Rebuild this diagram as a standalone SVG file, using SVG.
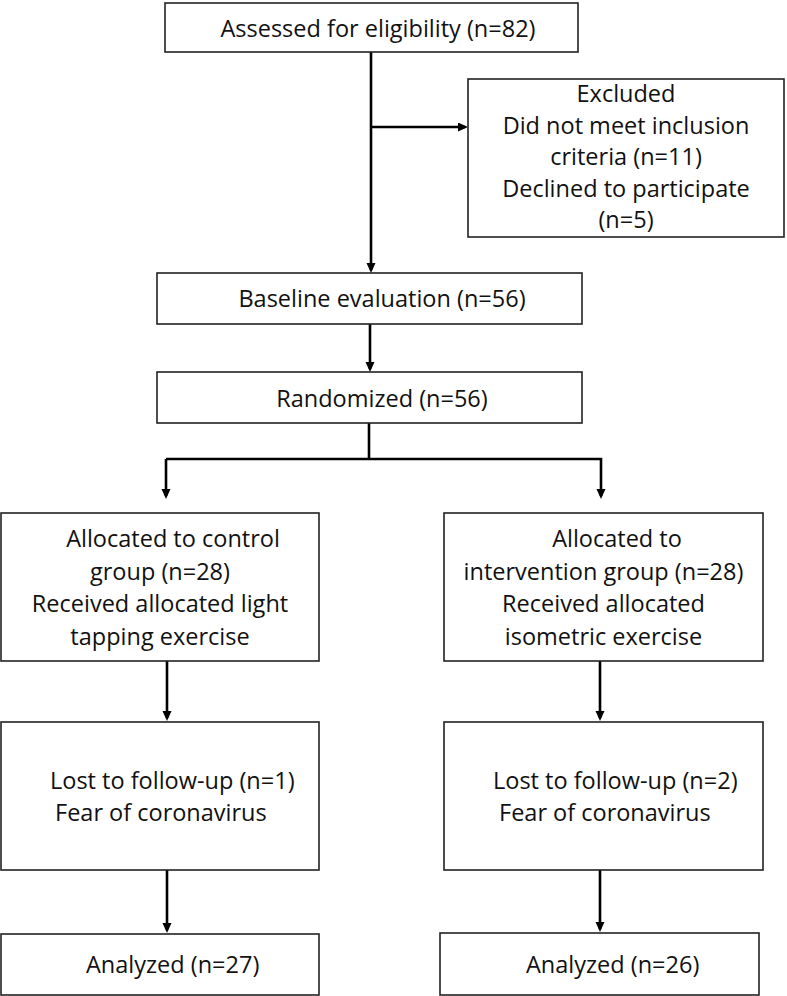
<svg xmlns="http://www.w3.org/2000/svg" width="787" height="996" viewBox="0 0 787 996">
<defs>
<style>
.box{fill:#fff;stroke:#222;stroke-width:1.6}
.t{font-family:"Open Sans","Noto Sans","Liberation Sans",sans-serif;font-size:23.5px;fill:#111}
.c{text-anchor:middle}
.ln{fill:none;stroke:#000;stroke-width:2.6}
</style>
<marker id="ah" markerUnits="userSpaceOnUse" markerWidth="12" markerHeight="10" refX="7" refY="4.5" orient="auto">
<path d="M0,0 L10,4.5 L0,9 z" fill="#000"/>
</marker>
</defs>
<rect width="787" height="996" fill="#fff"/>
<g id="connectors">
<line class="ln" x1="371" y1="52" x2="371" y2="270" marker-end="url(#ah)"/>
<line class="ln" x1="371" y1="127" x2="465" y2="127" marker-end="url(#ah)"/>
<line class="ln" x1="370" y1="324" x2="370" y2="369" marker-end="url(#ah)"/>
<polyline class="ln" points="369,423 369,459"/>
<polyline class="ln" points="166,459 601,459 601,496" marker-end="url(#ah)"/>
<line class="ln" x1="166" y1="459" x2="166" y2="496" marker-end="url(#ah)"/>
<line class="ln" x1="167" y1="661" x2="167" y2="718" marker-end="url(#ah)"/>
<line class="ln" x1="600" y1="661" x2="600" y2="718" marker-end="url(#ah)"/>
<line class="ln" x1="167" y1="870" x2="167" y2="930" marker-end="url(#ah)"/>
<line class="ln" x1="600" y1="870" x2="600" y2="929" marker-end="url(#ah)"/>
</g>
<g id="assessed">
<rect class="box" x="165" y="3" width="413" height="49"/>
<text class="t c" x="378" y="37">Assessed for eligibility (n=82)</text>
</g>
<g id="excluded">
<rect class="box" x="468" y="79" width="316" height="158"/>
<text class="t c" x="626" y="102">Excluded</text>
<text class="t c" x="626" y="134">Did not meet inclusion</text>
<text class="t c" x="626" y="165">criteria (n=11)</text>
<text class="t c" x="626" y="197">Declined to participate</text>
<text class="t c" x="626" y="228">(n=5)</text>
</g>
<g id="baseline">
<rect class="box" x="157" y="273" width="425" height="51"/>
<text class="t c" x="382" y="307">Baseline evaluation (n=56)</text>
</g>
<g id="randomized">
<rect class="box" x="157" y="372" width="425" height="51"/>
<text class="t c" x="382" y="407">Randomized (n=56)</text>
</g>
<g id="control">
<rect class="box" x="1" y="513" width="318" height="148"/>
<text class="t c" x="173" y="547">Allocated to control</text>
<text class="t c" x="160" y="580">group (n=28)</text>
<text class="t c" x="160" y="612">Received allocated light</text>
<text class="t c" x="160" y="645">tapping exercise</text>
</g>
<g id="intervention">
<rect class="box" x="444" y="513" width="319" height="148"/>
<text class="t c" x="617" y="547">Allocated to</text>
<text class="t c" x="603.5" y="580">intervention group (n=28)</text>
<text class="t c" x="603.5" y="612">Received allocated</text>
<text class="t c" x="603.5" y="645">isometric exercise</text>
</g>
<g id="lost-control">
<rect class="box" x="1" y="722" width="318" height="148"/>
<text class="t" x="50" y="789">Lost to follow-up (n=1)</text>
<text class="t" x="55" y="821">Fear of coronavirus</text>
</g>
<g id="lost-intervention">
<rect class="box" x="444" y="722" width="319" height="148"/>
<text class="t" x="493" y="789">Lost to follow-up (n=2)</text>
<text class="t" x="499" y="821">Fear of coronavirus</text>
</g>
<g id="analyzed-control">
<rect class="box" x="1" y="934" width="318" height="61"/>
<text class="t" x="86" y="973">Analyzed (n=27)</text>
</g>
<g id="analyzed-intervention">
<rect class="box" x="440" y="933" width="319" height="62"/>
<text class="t" x="526" y="973">Analyzed (n=26)</text>
</g>
</svg>
